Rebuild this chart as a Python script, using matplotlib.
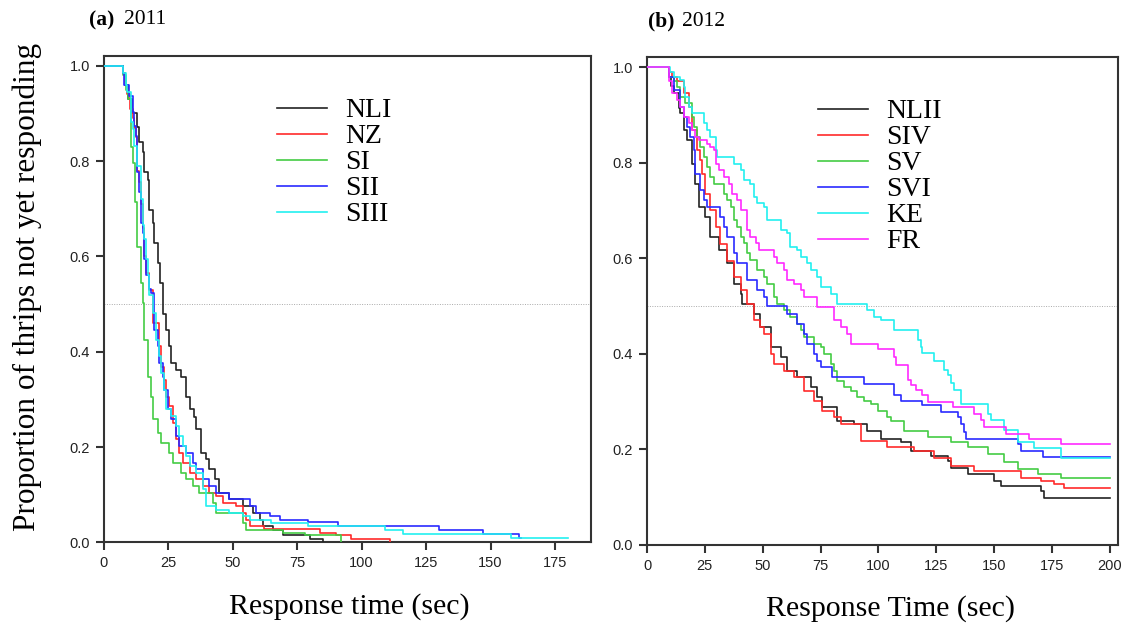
import matplotlib
matplotlib.use("Agg")
import matplotlib.pyplot as plt

plt.rcParams["font.family"] = ["Liberation Serif", "DejaVu Serif"]

# ---- panel (a) 2011: Kaplan-Meier style step curves (time in sec, proportion) ----
nli_t = [0, 7.2, 8, 9.5, 11, 12.8, 13.7, 15, 15.6, 16.9, 17.6, 18.9, 19.5, 20.8, 21.7, 22.8, 24.1,
         25.4, 26, 28, 29.9, 31.9, 33.2, 35.1, 35.8, 37.7, 39.6, 40.9, 42.9, 44.8, 48.7, 53.9, 57.8,
         60.4, 61.7, 65.5, 69.5, 80, 85]
nli_s = [1.0, 0.985, 0.96, 0.93, 0.90, 0.872, 0.84, 0.82, 0.778, 0.76, 0.697, 0.67, 0.628, 0.586,
         0.544, 0.48, 0.446, 0.411, 0.376, 0.362, 0.348, 0.306, 0.279, 0.264, 0.237, 0.188, 0.174,
         0.153, 0.132, 0.104, 0.09, 0.076, 0.062, 0.048, 0.034, 0.027, 0.0147, 0.008, 0.0]

nz_t = [0, 7.2, 8, 9.1, 10, 11.1, 11.8, 12.4, 13, 13.7, 14.4, 15, 15.6, 16.3, 17.6, 18.9, 21.5,
        22.1, 23.4, 24.1, 25.4, 26.7, 28, 29.3, 30.5, 33.2, 35.8, 38.3, 40.9, 43.5, 46.1, 51.3,
        53.9, 55.2, 56.5, 62, 84, 90, 96, 111]
nz_s = [1.0, 0.984, 0.96, 0.94, 0.91, 0.89, 0.87, 0.85, 0.78, 0.755, 0.71, 0.66, 0.6, 0.565, 0.53,
        0.46, 0.411, 0.369, 0.341, 0.306, 0.286, 0.251, 0.216, 0.188, 0.167, 0.146, 0.132, 0.118,
        0.104, 0.097, 0.083, 0.076, 0.062, 0.048, 0.034, 0.028, 0.02, 0.0147, 0.008, 0.0]

si_t = [0, 7.2, 8.5, 9.5, 10.4, 11.2, 11.9, 13, 14.4, 15, 15.6, 16.9, 18.2, 18.9, 20.8, 22.1, 25.4,
        26.7, 29.9, 31.9, 34.4, 37, 42.2, 43.5, 53.9, 55.2, 69.5, 78, 92]
si_s = [1.0, 0.98, 0.95, 0.93, 0.83, 0.795, 0.715, 0.62, 0.544, 0.502, 0.425, 0.348, 0.306, 0.258,
        0.23, 0.209, 0.188, 0.167, 0.146, 0.132, 0.118, 0.104, 0.083, 0.062, 0.041, 0.027, 0.02,
        0.0147, 0.0]

sii_t = [0, 7.2, 7.9, 9.8, 11.1, 11.8, 12.4, 13, 13.7, 14.4, 15, 15.6, 16.3, 17.6, 18.2, 19.5, 20.8,
         21.5, 22.8, 23.4, 24.7, 26, 28, 29.3, 31.9, 34.4, 35.8, 38.3, 40.9, 43.5, 48.7, 56.5, 59.1,
         64.3, 68.2, 79, 91, 130, 147, 161, 162]
sii_s = [1.0, 0.984, 0.96, 0.937, 0.902, 0.874, 0.853, 0.776, 0.735, 0.671, 0.65, 0.595, 0.56, 0.532,
         0.523, 0.446, 0.411, 0.376, 0.348, 0.32, 0.279, 0.258, 0.223, 0.202, 0.188, 0.167, 0.153,
         0.132, 0.118, 0.104, 0.09, 0.076, 0.062, 0.055, 0.048, 0.042, 0.034, 0.025, 0.018, 0.01,
         0.01]

siii_t = [0, 7.5, 8.5, 9.1, 10.4, 11.1, 11.8, 13, 14.4, 15, 15.6, 16.3, 16.9, 17.6, 18.9, 20.2,
          21.5, 22.1, 23.4, 24.1, 26, 28, 29.3, 30.5, 31.9, 33.2, 35.8, 38.3, 39.6, 43.5, 48.7,
          53.9, 56.5, 65, 79, 109, 116, 158, 180]
siii_s = [1.0, 0.984, 0.96, 0.944, 0.881, 0.867, 0.832, 0.79, 0.72, 0.665, 0.637, 0.595, 0.56,
          0.518, 0.481, 0.425, 0.39, 0.355, 0.32, 0.279, 0.265, 0.244, 0.223, 0.202, 0.181, 0.16,
          0.146, 0.111, 0.076, 0.069, 0.062, 0.055, 0.048, 0.041, 0.034, 0.025, 0.017, 0.01, 0.01]

# ---- panel (b) 2012 ----
nlii_t = [0, 9.4, 10.5, 11.5, 13.7, 14.4, 15.9, 17.3, 19.5, 20.9, 22.4, 25.2, 27.4, 31, 34.6, 37.5,
          40.4, 41.1, 46.1, 49, 53.4, 57.7, 60.6, 64.9, 70.7, 73.6, 75.8, 82.3, 89.4, 95.2, 101,
          109.7, 114, 122.6, 129.9, 131.3, 138.5, 150, 152.9, 170.3, 171.7, 200]
nlii_s = [1.0, 0.98, 0.96, 0.945, 0.914, 0.903, 0.868, 0.847, 0.798, 0.756, 0.708, 0.687, 0.645,
          0.617, 0.589, 0.547, 0.526, 0.505, 0.484, 0.456, 0.414, 0.393, 0.365, 0.351, 0.33, 0.309,
          0.288, 0.26, 0.253, 0.239, 0.222, 0.215, 0.197, 0.187, 0.176, 0.162, 0.148, 0.134, 0.124,
          0.113, 0.099, 0.099]

siv_t = [0, 9.4, 11, 13, 15.9, 18, 19.5, 21.6, 23.1, 23.8, 25.2, 27.4, 29.6, 31.7, 34.6, 37.5, 40.4,
         43.3, 46.1, 49, 50.5, 53.4, 54.8, 59.1, 63.5, 67.8, 72.1, 75.8, 80.8, 83.7, 92.3, 103.9,
         115.4, 124.1, 131.3, 141.4, 161.6, 170.3, 176, 180.3, 200]
siv_s = [1.0, 0.99, 0.98, 0.97, 0.945, 0.917, 0.868, 0.826, 0.805, 0.777, 0.735, 0.7, 0.665, 0.63,
         0.595, 0.561, 0.533, 0.505, 0.47, 0.456, 0.442, 0.4, 0.379, 0.365, 0.351, 0.323, 0.302,
         0.281, 0.267, 0.253, 0.218, 0.204, 0.197, 0.183, 0.166, 0.155, 0.141, 0.134, 0.127, 0.12,
         0.12]

sv_t = [0, 9.4, 11.5, 13, 14.4, 16.6, 19.5, 20.2, 21.6, 23.1, 24.5, 26, 27.4, 28.8, 33.2, 34.6,
        36.1, 37.5, 39, 40.4, 41.8, 43.3, 44.7, 47.6, 50.5, 51.9, 54.8, 56.3, 59.1, 62, 64.9, 66.4,
        67.8, 72.1, 75, 76.5, 79.4, 80.8, 82.3, 85.1, 88, 90.9, 93.8, 96.7, 99.6, 103.9, 105.3,
        111.1, 121.2, 131.3, 138.5, 147.2, 154.4, 160.2, 168.8, 178.9, 200]
sv_s = [1.0, 0.98, 0.97, 0.959, 0.938, 0.924, 0.896, 0.875, 0.854, 0.833, 0.812, 0.791, 0.77, 0.756,
        0.735, 0.722, 0.708, 0.68, 0.666, 0.645, 0.631, 0.61, 0.596, 0.575, 0.561, 0.547, 0.519,
        0.505, 0.491, 0.477, 0.463, 0.449, 0.435, 0.421, 0.414, 0.4, 0.379, 0.365, 0.344, 0.33,
        0.323, 0.309, 0.302, 0.295, 0.281, 0.267, 0.26, 0.239, 0.225, 0.215, 0.204, 0.19, 0.173,
        0.159, 0.148, 0.141, 0.141]

svi_t = [0, 9.4, 11.5, 14.4, 15.9, 17.3, 18.7, 20.2, 20.9, 23.1, 24.5, 26, 31.7, 33.2, 34.6, 37.5,
         39, 43.3, 47.6, 50.5, 51.9, 60.6, 64.9, 67.8, 69.3, 72.1, 73.6, 75, 80.1, 93.8, 106.8,
         109.7, 119, 127, 134.2, 135.6, 137, 137.8, 160.2, 161.6, 171, 200]
svi_s = [1.0, 0.98, 0.952, 0.917, 0.896, 0.875, 0.854, 0.826, 0.777, 0.743, 0.722, 0.708, 0.687,
         0.666, 0.645, 0.61, 0.589, 0.554, 0.533, 0.519, 0.501, 0.484, 0.463, 0.442, 0.421, 0.4,
         0.386, 0.372, 0.351, 0.337, 0.313, 0.302, 0.292, 0.278, 0.267, 0.253, 0.236, 0.222, 0.211,
         0.197, 0.185, 0.185]

ke_t = [0, 10, 11.5, 14.4, 15.9, 16.6, 18, 19.5, 24.5, 26, 27.4, 29.6, 30.3, 37.5, 40.4, 41.8, 44.7,
        46.1, 47.6, 50.5, 51.9, 57.7, 60.6, 62, 64.9, 66.4, 69.3, 70.7, 73.6, 75, 79.4, 82.3, 95.2,
        98.1, 101, 106.8, 116.9, 118.3, 119, 124.1, 128.4, 129.9, 131.3, 132.7, 135.6, 147.2, 148.6,
        154.4, 160.2, 167.4, 178.9, 200]
ke_s = [1.0, 0.99, 0.98, 0.973, 0.959, 0.938, 0.917, 0.903, 0.882, 0.868, 0.854, 0.826, 0.812,
        0.798, 0.784, 0.764, 0.756, 0.728, 0.715, 0.708, 0.68, 0.659, 0.652, 0.624, 0.617, 0.603,
        0.589, 0.575, 0.561, 0.54, 0.526, 0.505, 0.491, 0.477, 0.47, 0.449, 0.428, 0.415, 0.401,
        0.384, 0.367, 0.356, 0.338, 0.324, 0.296, 0.275, 0.261, 0.24, 0.216, 0.202, 0.181, 0.181]

fr_t = [0, 9.6, 10.8, 13, 14.4, 15.9, 18, 19.5, 20.9, 22.4, 26, 27.4, 28.8, 29.6, 31, 33.2, 35.3,
        36.8, 39, 40.4, 43.3, 44.7, 46.9, 48.3, 54.8, 56.3, 59.1, 60.6, 63.5, 66.4, 67.8, 73.6,
        80.8, 83.7, 86.6, 88, 99.6, 106.8, 107.5, 112.6, 114, 116.1, 119, 121.2, 132, 141.4, 144.3,
        145.7, 155.1, 165.2, 178.9, 200]
fr_s = [1.0, 0.97, 0.945, 0.931, 0.917, 0.896, 0.882, 0.868, 0.854, 0.847, 0.84, 0.833, 0.826,
        0.798, 0.784, 0.77, 0.756, 0.735, 0.722, 0.701, 0.659, 0.645, 0.631, 0.617, 0.603, 0.589,
        0.575, 0.554, 0.547, 0.533, 0.519, 0.498, 0.47, 0.456, 0.442, 0.421, 0.411, 0.393, 0.376,
        0.345, 0.334, 0.324, 0.313, 0.299, 0.289, 0.275, 0.261, 0.247, 0.233, 0.222, 0.211, 0.211]

series_2011 = [("NLI", nli_t, nli_s, "#222222"),
               ("NZ", nz_t, nz_s, "#ff2a2a"),
               ("SI", si_t, si_s, "#44cc44"),
               ("SII", sii_t, sii_s, "#2a2aff"),
               ("SIII", siii_t, siii_s, "#22f0f0")]
series_2012 = [("NLII", nlii_t, nlii_s, "#222222"),
               ("SIV", siv_t, siv_s, "#ff2a2a"),
               ("SV", sv_t, sv_s, "#44cc44"),
               ("SVI", svi_t, svi_s, "#2a2aff"),
               ("KE", ke_t, ke_s, "#22f0f0"),
               ("FR", fr_t, fr_s, "#ff2aff")]

W, H = 1129, 627
fig = plt.figure(figsize=(W / 100, H / 100), dpi=100)
ax_a = fig.add_axes([104 / W, (H - 542.4) / H, 487 / W, 486.7 / H])
ax_b = fig.add_axes([647 / W, (H - 545) / H, 471 / W, 488.3 / H])


def style_axis(ax, xlim, ylim, xticks):
    ax.set_xlim(*xlim)
    ax.set_ylim(*ylim)
    ax.set_xticks(xticks)
    ax.set_yticks([0.0, 0.2, 0.4, 0.6, 0.8, 1.0])
    ax.set_yticklabels(["0.0", "0.2", "0.4", "0.6", "0.8", "1.0"])
    ax.axhline(0.5, color="#aaaaaa", lw=0.7, ls=(0, (1, 1.5)), zorder=1)
    for sp in ax.spines.values():
        sp.set_color("#333333")
        sp.set_linewidth(1.5)
    ax.tick_params(direction="out", length=6, width=1.5, color="#333333",
                   labelsize=10.5, pad=4, labelcolor="#222222")
    for lab in ax.get_xticklabels() + ax.get_yticklabels():
        lab.set_fontfamily("Liberation Sans")


for ax, series in ((ax_a, series_2011), (ax_b, series_2012)):
    for name, t, s, c in series:
        ax.step(t, s, where="post", color=c, lw=1.2, label=name, zorder=3)

style_axis(ax_a, (0, 189), (0, 1.021), [0, 25, 50, 75, 100, 125, 150, 175])
style_axis(ax_b, (0, 203.5), (0, 1.0216), [0, 25, 50, 75, 100, 125, 150, 175, 200])

leg_kw = dict(frameon=False, loc="upper left", fontsize=20, handlelength=1.8,
              handletextpad=0.65, labelspacing=0.02, borderpad=0, borderaxespad=0)
ax_a.legend(bbox_to_anchor=((277 - 104) / 487, (542.4 - 98) / 486.7), **leg_kw)
ax_b.legend(bbox_to_anchor=((818 - 647) / 471, (545 - 99) / 488.3), **leg_kw)

# panel titles
fig.text(114 / W, 1 - 20 / H, "(a)", fontsize=15.5, fontweight="bold", ha="right", va="center")
fig.text(124 / W, 1 - 20 / H, "2011", fontsize=15.5, ha="left", va="center")
fig.text(648 / W, 1 - 21.5 / H, "(b)", fontsize=15.5, fontweight="bold", ha="left", va="center")
fig.text(682 / W, 1 - 21.5 / H, "2012", fontsize=15.5, ha="left", va="center")

# axis labels
fig.text(27 / W, 1 - 287 / H, "Proportion of thrips not yet responding", fontsize=22.5,
         rotation=90, ha="center", va="center")
fig.text(349 / W, 1 - 607 / H, "Response time (sec)", fontsize=21.5, ha="center", va="center")
fig.text(890 / W, 1 - 609 / H, "Response Time (sec)", fontsize=21.5, ha="center", va="center")

fig.savefig("out.png", dpi=100)
